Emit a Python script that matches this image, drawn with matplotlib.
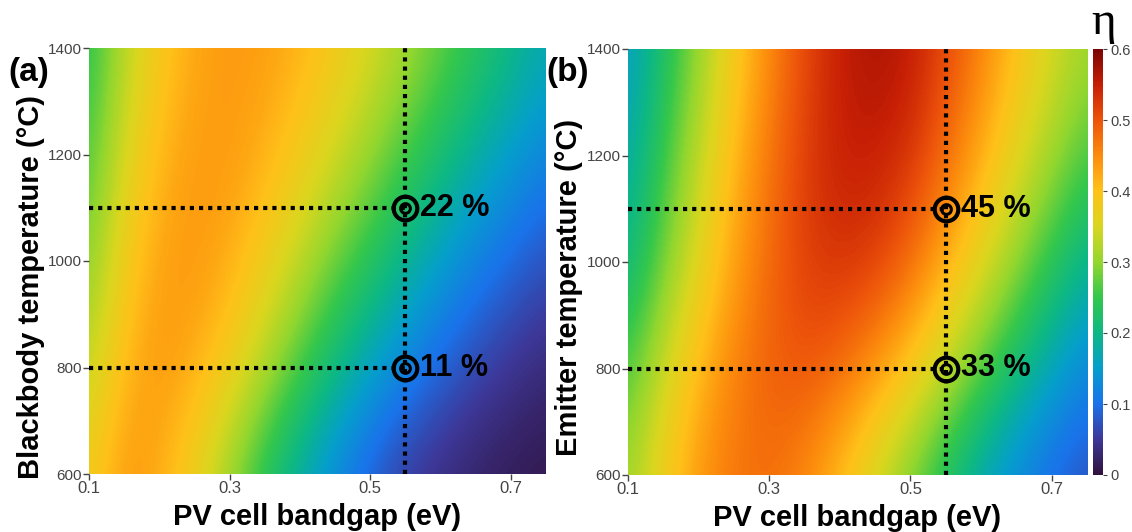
import numpy as np
import matplotlib
matplotlib.use("Agg")
import matplotlib.pyplot as plt
from matplotlib.colors import LinearSegmentedColormap

#----------------------------------------------------------------
#Data (rows = temperature, cols = bandgap)
bandgap = [0.10, 0.15, 0.20, 0.25, 0.30, 0.35, 0.40, 0.45, 0.50, 0.55, 0.60, 0.65, 0.70, 0.75]  # eV
temperature = [600, 800, 1000, 1200, 1400]  # degC

# (a) blackbody emitter
eff_a_600 = [0.38, 0.44, 0.42, 0.37, 0.30, 0.23, 0.17, 0.12, 0.08, 0.05, 0.035, 0.022, 0.014, 0.009]
eff_a_800 = [0.33, 0.41, 0.44, 0.42, 0.38, 0.32, 0.26, 0.205, 0.157, 0.118, 0.087, 0.063, 0.045, 0.032]
eff_a_1000 = [0.29, 0.38, 0.43, 0.44, 0.42, 0.38, 0.33, 0.28, 0.236, 0.191, 0.152, 0.118, 0.093, 0.071]
eff_a_1200 = [0.26, 0.35, 0.41, 0.435, 0.437, 0.417, 0.384, 0.345, 0.302, 0.259, 0.218, 0.181, 0.149, 0.12]
eff_a_1400 = [0.236, 0.324, 0.386, 0.424, 0.437, 0.434, 0.416, 0.387, 0.353, 0.316, 0.277, 0.241, 0.206, 0.174]

# (b) selective emitter
eff_b_600 = [0.31, 0.38, 0.44, 0.47, 0.475, 0.45, 0.40, 0.34, 0.28, 0.22, 0.16, 0.12, 0.09, 0.07]
eff_b_800 = [0.26, 0.34, 0.41, 0.46, 0.49, 0.50, 0.48, 0.44, 0.39, 0.33, 0.27, 0.21, 0.16, 0.12]
eff_b_1000 = [0.20, 0.28, 0.36, 0.43, 0.48, 0.52, 0.53, 0.52, 0.48, 0.42, 0.36, 0.30, 0.24, 0.19]
eff_b_1200 = [0.17, 0.25, 0.33, 0.41, 0.47, 0.52, 0.55, 0.55, 0.53, 0.48, 0.42, 0.36, 0.31, 0.26]
eff_b_1400 = [0.15, 0.22, 0.30, 0.38, 0.45, 0.51, 0.55, 0.57, 0.555, 0.51, 0.46, 0.40, 0.35, 0.31]

# marked operating points
mark_gap = 0.55
mark_temps = [1100, 800]
labels_a = ["22 %", "11 %"]
labels_b = ["45 %", "33 %"]
#----------------------------------------------------------------

eff_a = np.array([eff_a_600, eff_a_800, eff_a_1000, eff_a_1200, eff_a_1400])
eff_b = np.array([eff_b_600, eff_b_800, eff_b_1000, eff_b_1200, eff_b_1400])

#----------------------------------------------------------------
#Colormap (sampled from the colour bar)
cmap_colors = [
    (0.00, (0.19, 0.07, 0.24)),
    (0.05 / 0.6, (0.24, 0.22, 0.60)),
    (0.10 / 0.6, (0.10, 0.45, 0.92)),
    (0.15 / 0.6, (0.02, 0.62, 0.80)),
    (0.20 / 0.6, (0.05, 0.72, 0.52)),
    (0.25 / 0.6, (0.20, 0.78, 0.30)),
    (0.30 / 0.6, (0.58, 0.84, 0.18)),
    (0.35 / 0.6, (0.85, 0.84, 0.12)),
    (0.40 / 0.6, (1.00, 0.76, 0.10)),
    (0.45 / 0.6, (0.99, 0.55, 0.05)),
    (0.50 / 0.6, (0.93, 0.33, 0.04)),
    (0.55 / 0.6, (0.78, 0.12, 0.02)),
    (1.00, (0.48, 0.02, 0.02)),
]
cmap = LinearSegmentedColormap.from_list("eta", cmap_colors)
#----------------------------------------------------------------

plt.rcParams['font.family'] = ['Liberation Sans', 'DejaVu Sans']
W, H = 1132, 532
fig = plt.figure(figsize=(W / 100, H / 100), dpi=100)

ax1 = fig.add_axes([89 / W, 58 / H, 457 / W, 426 / H])
ax2 = fig.add_axes([628 / W, 57 / H, 459 / W, 426 / H])
cax = fig.add_axes([1093 / W, 57 / H, 10 / W, 426 / H])

dx = (bandgap[1] - bandgap[0]) / 2
dy = (temperature[1] - temperature[0]) / 2
ext = (bandgap[0] - dx, bandgap[-1] + dx, temperature[0] - dy, temperature[-1] + dy)

panels = [(ax1, eff_a, labels_a, "Blackbody temperature (°C)", "(a)", 8),
          (ax2, eff_b, labels_b, "Emitter temperature (°C)", "(b)", 546)]

for ax, eff, labels, ylab, tag, tag_x in panels:
    im = ax.imshow(eff, origin='lower', extent=ext, aspect='auto', cmap=cmap,
                   vmin=0, vmax=0.6, interpolation='bicubic')
    ax.set_xlim(bandgap[0], bandgap[-1])
    ax.set_ylim(temperature[0], temperature[-1])
    ax.set_xticks([0.1, 0.3, 0.5, 0.7])
    ax.set_xticklabels(["0.1", "0.3", "0.5", "0.7"])
    ax.set_yticks([600, 800, 1000, 1200, 1400])
    for s in ax.spines.values():
        s.set_visible(False)
    ax.tick_params(length=4, width=1, color='#444444', labelcolor='#444444', pad=1)
    ax.tick_params(axis='x', labelsize=12)
    ax.tick_params(axis='y', labelsize=11)
    ax.set_xlabel("PV cell bandgap (eV)", fontsize=21, fontweight='bold')
    ax.xaxis.set_label_coords(0.5, -0.068)
    ax.set_ylabel(ylab, fontsize=21, fontweight='bold')
    ax.yaxis.set_label_coords(-0.097, 0.44)

    # dotted guide lines and target markers
    ax.plot([mark_gap, mark_gap], [temperature[0], temperature[-1]], color='black',
            lw=3, linestyle=(0, (1, 1.2)))
    for t, lab in zip(mark_temps, labels):
        ax.plot([bandgap[0], mark_gap], [t, t], color='black', lw=3, linestyle=(0, (1, 1.2)))
        ax.plot(mark_gap, t, 'o', ms=17, mfc='none', mec='black', mew=3)
        ax.plot(mark_gap, t, 'o', ms=7, mfc='none', mec='black', mew=2.2)
        ax.text(mark_gap + 0.021, t, lab, fontsize=22, fontweight='bold', va='center', ha='left')

    fig.text(tag_x / W, 1 - 72 / H, tag, fontsize=24, fontweight='bold', ha='left', va='center')

cb = fig.colorbar(im, cax=cax, ticks=[0, 0.1, 0.2, 0.3, 0.4, 0.5, 0.6])
cb.set_ticklabels(["0", "0.1", "0.2", "0.3", "0.4", "0.5", "0.6"])
cb.outline.set_visible(False)
cax.tick_params(length=3, pad=2, color='#444444', labelcolor='#444444', labelsize=10.5)
fig.text(1104 / W, 1 - 34 / H, "η", fontsize=34, family='Liberation Serif', ha='center', va='baseline')

plt.savefig("out.png", dpi=100)
